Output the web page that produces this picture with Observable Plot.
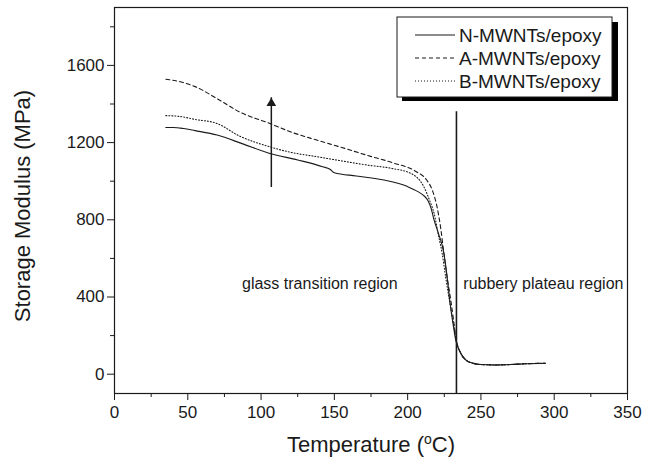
<!DOCTYPE html>
<html>
<head>
<meta charset="utf-8">
<script src="https://cdn.jsdelivr.net/npm/d3@7"></script>
<script src="https://cdn.jsdelivr.net/npm/@observablehq/plot@0.6"></script>
<style>
  html, body { margin: 0; padding: 0; background: #fff; }
  #chart { width: 659px; height: 468px; }
  svg { font-family: "Liberation Sans", Arial, sans-serif; }
</style>
</head>
<body>
<div id="chart"></div>
<script>
// ---- data ----
const seriesNames = ["N-MWNTs/epoxy", "A-MWNTs/epoxy", "B-MWNTs/epoxy"];

const nTemp = [35, 40, 47, 55, 70, 88, 106, 125, 142, 147, 150, 165, 184, 200, 207, 211, 214, 216, 218, 221, 224.7, 227, 229.2, 231, 232.7, 236, 240, 245, 250, 260, 270, 280, 294];
const nMod  = [1278, 1278, 1273, 1262, 1239, 1192, 1144, 1110, 1075, 1062, 1044, 1027, 1006, 972, 946, 925, 898, 860, 800, 730, 628, 500, 352, 260, 181, 112, 72, 56, 50, 48, 50, 54, 57];

const aTemp = [35, 45, 55, 70, 85, 106, 120, 138, 155, 172, 190, 206, 213, 217, 220, 222.5, 224.7, 227, 229.5, 231.5, 233, 236, 240, 245, 250, 260, 270, 280, 294];
const aMod  = [1528, 1515, 1490, 1428, 1360, 1299, 1256, 1213, 1175, 1135, 1095, 1049, 1006, 950, 869, 760, 628, 500, 380, 270, 185, 112, 72, 56, 50, 48, 50, 54, 57];

const bTemp = [35, 45, 55, 70, 85, 106, 120, 138, 155, 172, 190, 202, 211, 215, 218, 221, 223.5, 226, 229, 231.5, 233, 236, 240, 245, 250, 260, 270, 280, 294];
const bMod  = [1340, 1335, 1320, 1299, 1235, 1178, 1150, 1127, 1105, 1084, 1065, 1041, 972, 900, 835, 720, 628, 500, 360, 250, 180, 112, 72, 56, 50, 48, 50, 54, 57];

const xMajorTicks = [0, 50, 100, 150, 200, 250, 300, 350];
const xMinorTicks = [25, 75, 125, 175, 225, 275, 325];
const yMajorTicks = [0, 400, 800, 1200, 1600];
const yMinorTicks = [200, 600, 1000, 1400, 1800];

const dividerTemp = [233.3];
const dividerRange = [-100, 1360];
const arrowTemp = [107];
const arrowRange = [970, 1435];
const regionLabels = ["glass transition region", "rubbery plateau region"];
const regionTemps = [87, 238];
const regionMods = [470, 470];

// ---- build tables ----
const toRows = (T, V, name) => T.map((t, i) => ({ T: t, V: V[i], name }));
const nRows = toRows(nTemp, nMod, seriesNames[0]);
const aRows = toRows(aTemp, aMod, seriesNames[1]);
const bRows = toRows(bTemp, bMod, seriesNames[2]);
const arrowRows = arrowTemp.map(t => ({ x: t, y1: arrowRange[0], y2: arrowRange[1] }));
const regionRows = regionLabels.map((s, i) => ({ text: s, x: regionTemps[i], y: regionMods[i] }));

const ink = "#1a1a1a";
const fontTick = 17;
const fmt = d3.format("d");

const plot = Plot.plot({
  width: 659,
  height: 468,
  marginLeft: 114,
  marginRight: 32,
  marginTop: 7,
  marginBottom: 75,
  style: { fontFamily: "'Liberation Sans', Arial, sans-serif", background: "white", color: ink },
  x: { domain: [0, 350] },
  y: { domain: [-100, 1900] },
  marks: [
    Plot.axisX(xMajorTicks, { tickSize: 7, tickPadding: 5, fontSize: fontTick, tickFormat: fmt, label: null, stroke: ink }),
    Plot.axisX(xMinorTicks, { tickSize: 4, tickFormat: () => "", label: null, stroke: ink }),
    Plot.axisY(yMajorTicks, { tickSize: 7, tickPadding: 3, fontSize: fontTick, tickFormat: fmt, label: null, stroke: ink }),
    Plot.axisY(yMinorTicks, { tickSize: 4, tickFormat: () => "", label: null, stroke: ink }),
    Plot.line(nRows, { x: "T", y: "V", stroke: ink, strokeWidth: 1.1, curve: "monotone-x" }),
    Plot.line(aRows, { x: "T", y: "V", stroke: ink, strokeWidth: 1.1, strokeDasharray: "4,3", curve: "monotone-x" }),
    Plot.line(bRows, { x: "T", y: "V", stroke: ink, strokeWidth: 1.1, strokeDasharray: "1,2", curve: "monotone-x" }),
    Plot.ruleX(dividerTemp, { y1: dividerRange[0], y2: dividerRange[1], stroke: ink, strokeWidth: 1.6 }),
    Plot.link(arrowRows, { x1: "x", x2: "x", y1: "y1", y2: "y2", stroke: ink, strokeWidth: 1.5 }),
    Plot.dot(arrowRows, { x: "x", y: "y2", symbol: "triangle", r: 3.6, fill: ink, stroke: null, dy: 6 }),
    Plot.text(regionRows, { x: "x", y: "y", text: "text", textAnchor: "start", fontSize: 16, fill: ink }),
    Plot.frame({ stroke: ink, strokeWidth: 1.2 })
  ]
});

document.getElementById("chart").appendChild(plot);

// ---- axis titles and legend (layout) ----
const svg = d3.select(plot);

svg.append("text")
  .attr("x", 371).attr("y", 452)
  .attr("text-anchor", "middle")
  .attr("font-size", 22).attr("fill", ink)
  .call(t => {
    t.append("tspan").text("Temperature (");
    t.append("tspan").attr("font-size", 14).attr("dy", -8).text("o");
    t.append("tspan").attr("dy", 8).text("C)");
  });

svg.append("text")
  .attr("transform", "translate(30,206) rotate(-90)")
  .attr("text-anchor", "middle")
  .attr("font-size", 22).attr("fill", ink)
  .text("Storage Modulus (MPa)");

const lg = svg.append("g");
lg.append("rect").attr("x", 402).attr("y", 22).attr("width", 216).attr("height", 79).attr("fill", "#000");
lg.append("rect").attr("x", 397).attr("y", 17).attr("width", 215).attr("height", 80)
  .attr("fill", "#fff").attr("stroke", ink).attr("stroke-width", 1);
const dashes = [null, "4,3", "1,2"];
const rowY = [35, 58, 81];
seriesNames.forEach((name, i) => {
  const l = lg.append("line").attr("x1", 415).attr("x2", 455).attr("y1", rowY[i]).attr("y2", rowY[i])
    .attr("stroke", ink).attr("stroke-width", 1.1);
  if (dashes[i]) l.attr("stroke-dasharray", dashes[i]);
  lg.append("text").attr("x", 459).attr("y", rowY[i] + 7)
    .attr("text-anchor", "start")
    .attr("font-size", 19).attr("fill", ink).text(name);
});
</script>
</body>
</html>
